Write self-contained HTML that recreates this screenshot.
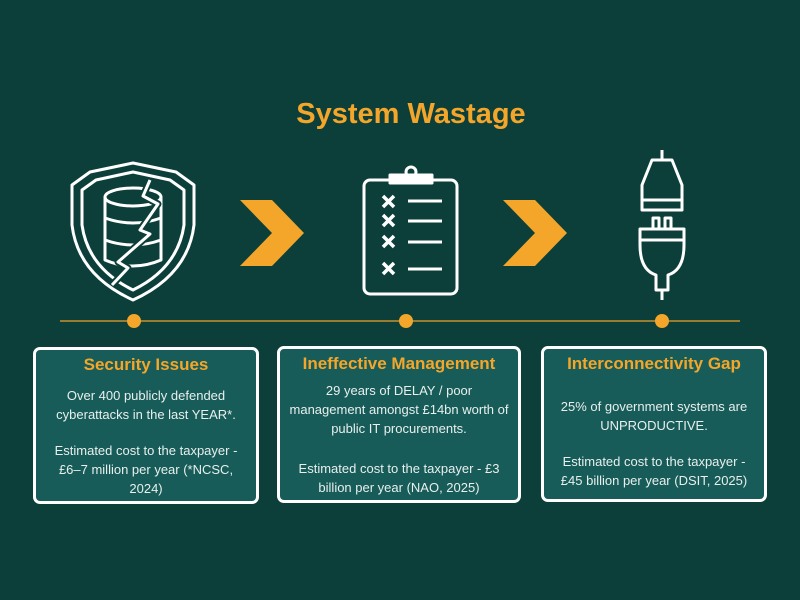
<!DOCTYPE html>
<html><head><meta charset="utf-8"><style>
body{margin:0;width:800px;height:600px;background:#0d3f3a;font-family:"Liberation Sans",sans-serif;position:relative;overflow:hidden}
.t{position:absolute;left:0;width:822px;top:98px;text-align:center;color:#f4a62a;font-weight:bold;font-size:29px}
.box{position:absolute;box-sizing:border-box;border:3px solid #fff;border-radius:7px;background:#175c59;color:#e8efed;text-align:center;font-size:13px;line-height:19px}
.box h3{margin:5px 0 12px;color:#f4a62a;font-size:17px;font-weight:bold}
.box p{margin:0 8px 17px}
</style></head><body>
<div class="t">System Wastage</div>
<svg width="800" height="600" style="position:absolute;left:0;top:0">
<g fill="none" stroke="#fff" stroke-width="3" stroke-linejoin="round">
<path d="M133 163 L90 172 L72 185 L72 225 Q78 275 133 300 Q188 275 194 225 L194 185 L176 172 Z"/>
<path d="M133 172 L96 180 L82 190 L82 225 Q88 268 133 290 Q178 268 184 225 L184 190 L170 180 Z"/>
<ellipse cx="133" cy="197" rx="28" ry="9"/>
<path d="M105 197 V260 Q133 272 161 260 V197"/>
<path d="M105 218 Q133 228 161 218 M105 240 Q133 250 161 240"/>
<path d="M150 180 L143 196 L158 204 L140 230 L150 234 L118 262 L128 268 L112 285" stroke="#0d3f3a" stroke-width="7"/>
<path d="M150 180 L143 196 L158 204 L140 230 L150 234 L118 262 L128 268 L112 285"/>
<rect x="364" y="180" width="93" height="114" rx="6"/>
<rect x="390" y="175" width="42" height="8" fill="#fff"/>
<circle cx="411" cy="172" r="5"/>
<path d="M383 196 L394 207 M394 196 L383 207 M383 215 L394 226 M394 215 L383 226 M383 236 L394 247 M394 236 L383 247 M383 263 L394 274 M394 263 L383 274" stroke-width="3.5"/>
<path d="M408 201 H442 M408 221 H442 M408 242 H442 M408 269 H442"/>
<path d="M662 150 V160 M652 160 H672 L682 185 V210 H642 V185 L652 160 Z M642 200 H682"/>
<path d="M653 229 V218 H659 V229 M665 229 V218 H671 V229 M640 229 H684 V245 Q684 270 668 275 V290 H656 V275 Q640 270 640 245 Z M640 240 H684 M662 290 V300"/>
</g>
<path d="M240 200 H272 L304 233 L272 266 H240 L272 233 Z" fill="#f4a62a"/>
<path d="M503 200 H535 L567 233 L535 266 H503 L535 233 Z" fill="#f4a62a"/>
<line x1="60" y1="321" x2="740" y2="321" stroke="#c7922c" stroke-width="1.5"/>
<circle cx="134" cy="321" r="7" fill="#f4a62a"/>
<circle cx="406" cy="321" r="7" fill="#f4a62a"/>
<circle cx="662" cy="321" r="7" fill="#f4a62a"/>
</svg>
<div class="box" style="left:33px;top:347px;width:226px;height:157px"><h3>Security Issues</h3><p>Over 400 publicly defended cyberattacks in the last YEAR*.</p><p>Estimated cost to the taxpayer - £6–7 million per year (*NCSC, 2024)</p></div>
<div class="box" style="left:277px;top:346px;width:244px;height:157px"><h3>Ineffective Management</h3><p style="margin-top:-4px;margin-bottom:21px">29 years of DELAY / poor management amongst £14bn worth of public IT procurements.</p><p style="margin:0 14px">Estimated cost to the taxpayer - £3 billion per year (NAO, 2025)</p></div>
<div class="box" style="left:541px;top:346px;width:226px;height:156px"><h3>Interconnectivity Gap</h3><p style="margin-top:24px">25% of government systems are UNPRODUCTIVE.</p><p>Estimated cost to the taxpayer - £45 billion per year (DSIT, 2025)</p></div>
</body></html>
